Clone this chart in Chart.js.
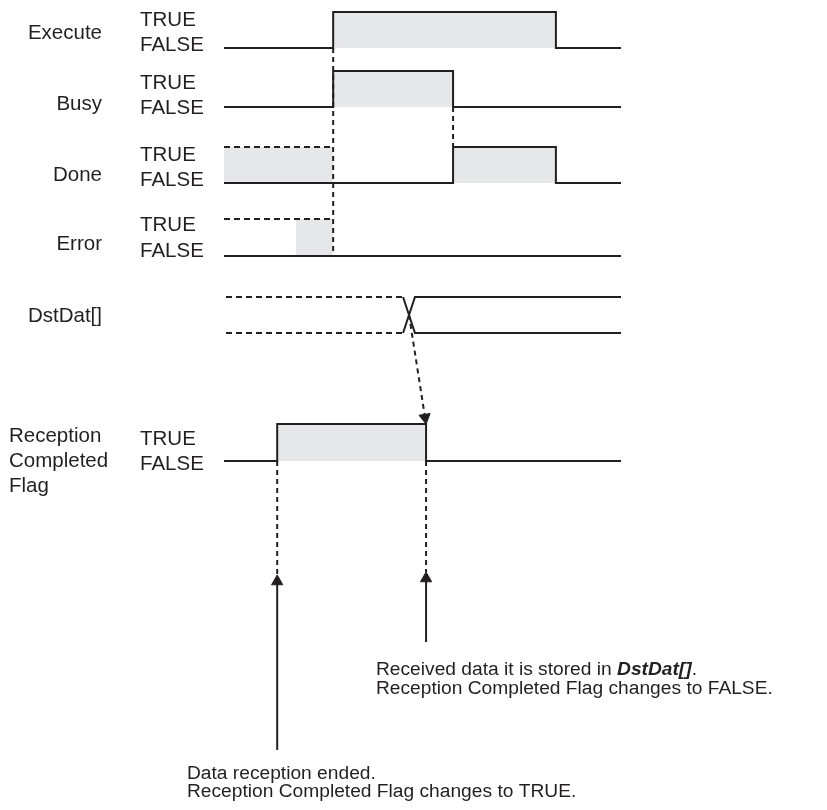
<!DOCTYPE html>
<html>
<head>
<meta charset="utf-8">
<script src="https://cdn.jsdelivr.net/npm/chart.js@4.4.0/dist/chart.umd.min.js"></script>
<style>
html, body { margin: 0; padding: 0; background: #fff; }
#root { width: 827px; height: 810px; }
</style>
</head>
<body>
<div id="root"><canvas id="myChart" width="827" height="810"></canvas></div>
<script>
// signal names and level text
const signalNames = ['Execute', 'Busy', 'Done', 'Error', 'DstDat[]']
const flagName = ['Reception', 'Completed', 'Flag']
const levelNames = ['TRUE', 'FALSE']

// waveforms: [time, level] (time 0..100, level 1 = TRUE)
const executeWave = [[0, 0], [27.5, 1], [83.6, 0], [100, 0]]
const busyWave = [[0, 0], [27.5, 1], [57.7, 0], [100, 0]]
const doneWave = [[0, 0], [57.7, 1], [83.6, 0], [100, 0]]
const donePrev = [[0, 1], [27.5, 1]]
const errorWave = [[0, 0], [100, 0]]
const errorPrev = [[0, 1], [27.5, 1]]
const errorOn = [[18.1, 1], [27.5, 1]]
const flagWave = [[0, 0], [13.4, 1], [50.9, 0], [100, 0]]
const dstOld = [0.5, 45.1]
const dstNew = [48.1, 100]
const dstCross = 46.6

// notes under the chart
const noteStored = ['Received data it is stored in ', 'DstDat[]', '.']
const noteStored2 = 'Reception Completed Flag changes to FALSE.'
const noteEnded = ['Data reception ended.', 'Reception Completed Flag changes to TRUE.']

// layout
const padL = 224
const padR = 206
const rowTrue = [12, 71, 147, 219, 297, 424]
const rowFalse = [48, 107, 183, 256, 333, 461]
const ink = '#231f20'
const shade = '#e6e7e8'
const dash = [6, 4]
const pxPerUnit = (827 - padL - padR) / 100
const headR = 6.5

function lvY(row, lv) { return lv ? rowTrue[row] : rowFalse[row] }

function wave(edges, row) {
    const pts = []
    edges.forEach((e, i) => {
        if (i > 0 && e[1] !== edges[i - 1][1]) pts.push({x: e[0], y: lvY(row, edges[i - 1][1])})
        pts.push({x: e[0], y: lvY(row, e[1])})
    })
    return pts
}

function line(data, opts) {
    return Object.assign({
        data: data,
        borderColor: ink,
        borderWidth: 2,
        pointRadius: 0,
        fill: false,
        clip: false,
        tension: 0,
        borderJoinStyle: 'miter',
        borderCapStyle: 'butt'
    }, opts || {})
}

function arrowHead(x, y, rot) {
    return line([{x: x, y: y}], {
        showLine: false,
        pointRadius: headR,
        pointStyle: 'triangle',
        rotation: rot,
        pointBackgroundColor: ink,
        pointBorderColor: ink,
        pointBorderWidth: 1
    })
}

const datasets = []

// main waves with gray TRUE area
datasets.push(line(wave(executeWave, 0), {fill: {value: rowFalse[0]}, backgroundColor: shade}))
datasets.push(line(wave(busyWave, 1), {fill: {value: rowFalse[1]}, backgroundColor: shade}))
datasets.push(line(wave(doneWave, 2), {fill: {value: rowFalse[2]}, backgroundColor: shade}))
datasets.push(line(wave(donePrev, 2), {borderDash: dash, fill: {value: rowFalse[2]}, backgroundColor: shade}))
datasets.push(line(wave(errorWave, 3)))
datasets.push(line(wave(errorPrev, 3), {borderDash: dash}))
datasets.push(line(wave(errorOn, 3), {borderWidth: 0, fill: {value: rowFalse[3]}, backgroundColor: shade}))
datasets.push(line(wave(flagWave, 5), {fill: {value: rowFalse[5]}, backgroundColor: shade}))

// DstDat[] old / new value
datasets.push(line([{x: dstOld[0], y: rowTrue[4]}, {x: dstOld[1], y: rowTrue[4]}], {borderDash: dash}))
datasets.push(line([{x: dstOld[0], y: rowFalse[4]}, {x: dstOld[1], y: rowFalse[4]}], {borderDash: dash}))
datasets.push(line([{x: dstOld[1], y: rowTrue[4]}, {x: dstNew[0], y: rowFalse[4]}, {x: dstNew[1], y: rowFalse[4]}]))
datasets.push(line([{x: dstOld[1], y: rowFalse[4]}, {x: dstNew[0], y: rowTrue[4]}, {x: dstNew[1], y: rowTrue[4]}]))

// timing guides
datasets.push(line([{x: executeWave[1][0], y: rowFalse[0]}, {x: executeWave[1][0], y: rowFalse[3]}], {borderDash: [5, 4]}))
datasets.push(line([{x: busyWave[2][0], y: rowFalse[1]}, {x: busyWave[2][0], y: rowTrue[2]}], {borderDash: [5, 4]}))

// DstDat[] -> flag falls (dashed arrow)
const tipX = flagWave[2][0]
const tipY = rowTrue[5]
const startY = (rowTrue[4] + rowFalse[4]) / 2
const dxPx = (tipX - dstCross) * pxPerUnit
const dyPx = tipY - startY
const len = Math.sqrt(dxPx * dxPx + dyPx * dyPx)
const cx = tipX - dxPx / len * headR / pxPerUnit
const cy = tipY - dyPx / len * headR
datasets.push(line([{x: dstCross, y: startY}, {x: cx, y: cy}], {borderDash: [5, 4]}))
datasets.push(arrowHead(cx, cy, 180 - Math.atan2(dxPx, dyPx) * 180 / Math.PI))

// note pointers below the flag
const pointers = [
    {t: flagWave[1][0], tip: 575, end: 750},
    {t: flagWave[2][0], tip: 572, end: 642}
]
pointers.forEach(p => {
    datasets.push(line([{x: p.t, y: rowFalse[5]}, {x: p.t, y: p.tip}], {borderDash: [5, 4]}))
    datasets.push(line([{x: p.t, y: p.tip + headR}, {x: p.t, y: p.end}]))
    datasets.push(arrowHead(p.t, p.tip + headR, 0))
})

const textPlugin = {
    id: 'texts',
    afterDraw(chart) {
        const ctx = chart.ctx
        ctx.save()
        ctx.fillStyle = ink
        ctx.textBaseline = 'alphabetic'
        ctx.font = '20.5px "Liberation Sans", Arial, sans-serif'

        const nameY = [39, 109.5, 180.5, 249.5, 321.5]
        ctx.textAlign = 'right'
        signalNames.forEach((n, i) => ctx.fillText(n, 102, nameY[i]))

        ctx.textAlign = 'left'
        flagName.forEach((n, i) => ctx.fillText(n, 9, [441.5, 467, 492][i]))

        const trueY = [26, 89, 160.5, 230.5, 444.5]
        const falseY = [51, 114, 186, 256.5, 470]
        trueY.forEach((y, i) => {
            ctx.fillText(levelNames[0], 140, y)
            ctx.fillText(levelNames[1], 140, falseY[i])
        })

        // notes
        const f = '19.2px "Liberation Sans", Arial, sans-serif'
        ctx.font = f
        let x = 376
        ctx.fillText(noteStored[0], x, 675)
        x += ctx.measureText(noteStored[0]).width
        ctx.font = 'italic bold ' + f
        ctx.fillText(noteStored[1], x, 675)
        x += ctx.measureText(noteStored[1]).width
        ctx.font = f
        ctx.fillText(noteStored[2], x, 675)
        ctx.fillText(noteStored2, 376, 694)

        ctx.fillText(noteEnded[0], 187, 778.5)
        ctx.fillText(noteEnded[1], 187, 797)
        ctx.restore()
    }
}

const ctx = document.getElementById('myChart').getContext('2d')
const chart = new Chart(ctx, {
    type: 'line',
    data: {datasets: datasets},
    options: {
        responsive: false,
        animation: false,
        devicePixelRatio: 1,
        layout: {autoPadding: false, padding: {left: padL, right: padR, top: 0, bottom: 0}},
        scales: {
            x: {type: 'linear', min: 0, max: 100, display: false},
            y: {type: 'linear', min: 0, max: 810, reverse: true, display: false}
        },
        plugins: {
            legend: {display: false},
            tooltip: {enabled: false},
            filler: {drawTime: 'beforeDatasetsDraw'}
        },
        events: []
    },
    plugins: [textPlugin]
})
</script>
</body>
</html>
